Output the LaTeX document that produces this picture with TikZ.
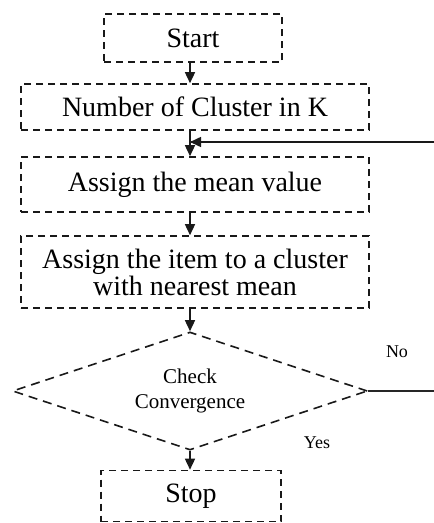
\documentclass[tikz,border=0pt]{standalone}
\usepackage{fontspec}
\setmainfont{Liberation Serif}
\usetikzlibrary{arrows.meta,shapes.geometric}
\begin{document}
\begin{tikzpicture}[x=1pt,y=-1pt,
  box/.style={draw=black!90, line width=1.6pt, dash pattern=on 7pt off 5pt, inner sep=0pt, align=center, font=\fontsize{28}{27}\selectfont},
  dia/.style={draw=black!90, line width=1.6pt, dash pattern=on 9pt off 6pt, shape=diamond, aspect=3, inner sep=0pt, align=center, font=\fontsize{21}{25}\selectfont},
  lbl/.style={font=\fontsize{18}{20}\selectfont, inner sep=0pt},
  arr/.style={line width=1.5pt, draw=black!90, -{Triangle[length=11pt,width=10pt]}},
  ln/.style={line width=1.5pt, draw=black!85}]
\useasboundingbox (0,0) rectangle (434,523);
\node[box, minimum width=178pt, minimum height=48pt] (start) at (193,38) {Start};
\node[box, minimum width=348pt, minimum height=46pt] (num) at (195,107) {Number of Cluster in K};
\node[box, minimum width=348pt, minimum height=55pt] (mean) at (195,184.5) {Assign the mean value};
\node[box, minimum width=348pt, minimum height=72pt] (item) at (195,272) {Assign the item to a cluster\\with nearest mean};
\node[dia, minimum width=355pt, minimum height=118pt] (chk) at (190,391) {Check\\Convergence};
\node[box, minimum width=180pt, minimum height=51pt] (stop) at (191,496) {Stop};
\coordinate (ax) at (190,0);
\coordinate (fb) at (190,142);
\coordinate (r1) at (445,391);
\coordinate (r2) at (445,142);
\node[lbl] (no) at (397,352) {No};
\node[lbl] (yes) at (317,443) {Yes};
\draw[arr] (start.south -| ax) -- (num.north -| ax);
\draw[arr] (num.south -| ax) -- (mean.north -| ax);
\draw[arr] (mean.south -| ax) -- (item.north -| ax);
\draw[arr] (item.south -| ax) -- (chk.north);
\draw[arr] (chk.south) -- (stop.north -| ax);
\draw[ln] (chk.east) -- (r1) -- (r2) -- (fb);
\draw[arr] (r2) -- (fb);
\end{tikzpicture}
\end{document}
